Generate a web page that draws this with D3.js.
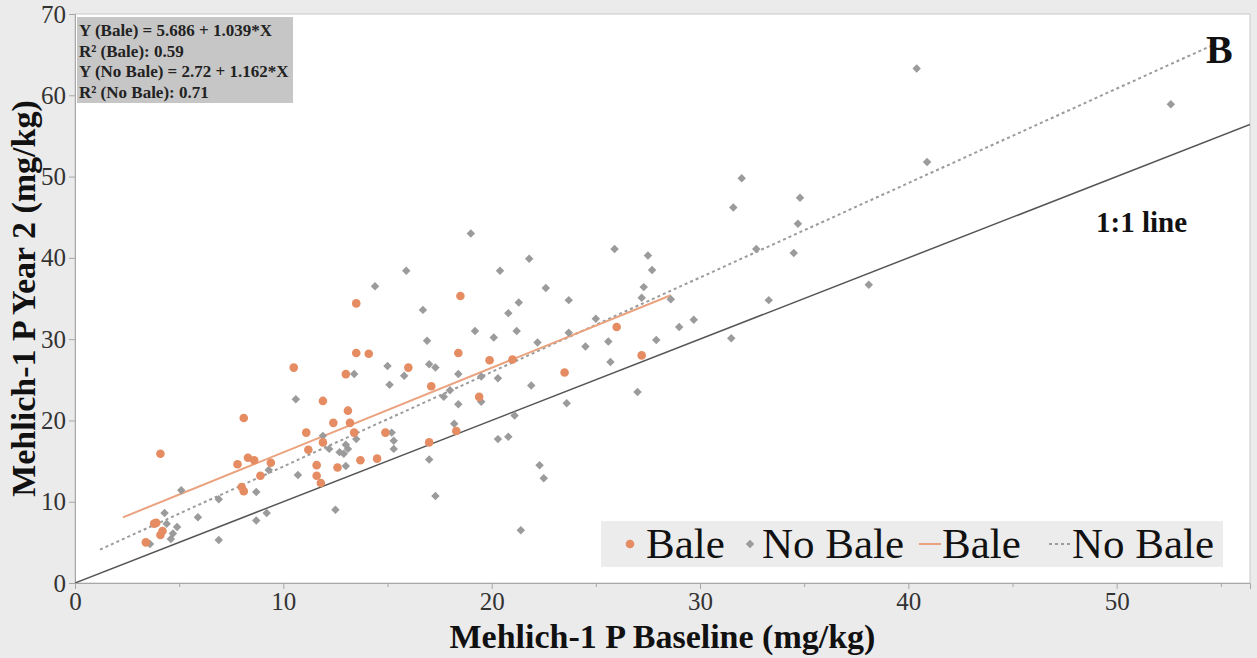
<!DOCTYPE html>
<html>
<head>
<meta charset="utf-8">
<script src="https://cdn.jsdelivr.net/npm/d3@7"></script>
<style>
  body { margin: 0; background: #ebebeb; }
  svg, svg text { font-family: "Liberation Serif", "Times New Roman", serif; }
  svg { display: block; }
</style>
</head>
<body>
<div id="chart"></div>
<script>
// ── data ─────────────────────────────────────────────────────────────────────
const baleX = [10.5, 13.5, 13.0, 11.9, 8.1, 4.1, 13.1, 12.4, 13.2, 11.1, 13.4, 11.2, 11.9,
  7.8, 8.3, 8.6, 9.4, 8.9, 8.0, 8.1, 11.6, 12.6, 11.6, 11.8, 3.8, 3.9, 4.2, 4.1, 3.4,
  13.5, 18.5, 14.1, 16.0, 18.4, 19.9, 21.0, 26.0, 27.2, 23.5, 17.1, 19.4, 14.9, 17.0,
  18.3, 13.7, 14.5];
const baleY = [26.5, 28.3, 25.7, 22.4, 20.3, 15.9, 21.2, 19.7, 19.7, 18.5, 18.5, 16.4, 17.3,
  14.6, 15.4, 15.1, 14.8, 13.2, 11.8, 11.3, 14.5, 14.2, 13.2, 12.3, 7.3, 7.4, 6.4, 5.9, 5.0,
  34.4, 35.3, 28.2, 26.5, 28.3, 27.4, 27.5, 31.5, 28.0, 25.9, 24.2, 22.9, 18.5, 17.3,
  18.7, 15.1, 15.3];

const noBaleX = [10.6, 13.4, 5.1, 6.9, 8.7, 5.9, 4.3, 4.4, 4.9, 4.7, 4.6, 3.6, 6.9, 8.7, 9.2,
  9.3, 10.7, 11.9, 12.2, 12.7, 12.9, 13.0, 13.1, 13.0, 13.5, 12.5, 19.0, 15.9, 14.4, 16.7,
  20.4, 21.8, 25.9, 27.5, 22.6, 21.3, 20.8, 23.7, 27.3, 27.2, 19.2, 20.1, 21.2, 23.7, 25.0,
  16.9, 22.2, 24.5, 25.6, 25.7, 15.0, 15.8, 17.0, 17.3, 18.4, 15.1, 20.3, 19.5, 17.7, 18.0,
  21.9, 18.4, 19.5, 23.6, 27.0, 21.1, 18.2, 15.2, 15.3, 15.3, 17.0, 20.3, 20.8, 17.3, 22.3,
  22.5, 21.4, 32.0, 34.8, 31.6, 40.9, 34.7, 32.7, 34.5, 27.7, 28.6, 29.7, 29.0, 33.3, 38.1,
  31.5, 27.9, 40.4, 52.6];
const noBaleY = [22.6, 25.7, 11.4, 10.3, 11.2, 8.1, 8.6, 7.3, 6.9, 6.1, 5.4, 4.8, 5.3, 7.7, 8.6,
  13.9, 13.3, 18.1, 16.5, 16.1, 15.9, 17.0, 16.5, 14.4, 17.7, 9.0, 43.0, 38.4, 36.5, 33.6,
  38.4, 39.9, 41.1, 40.3, 36.3, 34.5, 33.2, 34.8, 36.4, 35.1, 31.0, 30.2, 31.0, 30.8, 32.5,
  29.8, 29.6, 29.1, 29.7, 27.2, 26.7, 25.5, 26.9, 26.5, 25.7, 24.4, 25.2, 25.4, 22.9, 23.7,
  24.3, 22.0, 22.3, 22.1, 23.5, 20.6, 19.6, 18.5, 17.5, 16.5, 15.2, 17.7, 18.0, 10.7, 14.5,
  12.9, 6.5, 49.8, 47.4, 46.2, 51.8, 44.2, 41.1, 40.6, 38.5, 34.9, 32.4, 31.5, 34.8, 36.7,
  30.1, 29.9, 63.3, 58.9];

// fitted lines: [intercept, slope] and the x span each is drawn over
const baleFit    = [5.686, 1.039];
const baleSpan   = [2.3, 28.6];
const noBaleFit  = [2.72, 1.162];
const noBaleSpan = [1.2, 54.5];

const xTicks = [0, 10, 20, 30, 40, 50];
const xMinor = [5, 15, 25, 35, 45, 55];
const yTicks = [0, 10, 20, 30, 40, 50, 60, 70];

const fitLabels = [
  'Y (Bale) = 5.686 + 1.039*X',
  'R² (Bale): 0.59',
  'Y (No Bale) = 2.72 + 1.162*X',
  'R² (No Bale): 0.71'
];
const legendLabels = ['Bale', 'No Bale', 'Bale', 'No Bale'];

// ── setup ────────────────────────────────────────────────────────────────────
const W = 1257, H = 658;
const plot = { left: 75, right: 1250, top: 14, bottom: 583 };
const serif = '"Liberation Serif", "Times New Roman", serif';

const orange = '#e58c62';
const orangeLine = '#eaa27f';
const grey = '#9b9b9b';

const xScale = d3.scaleLinear().domain([0, 56.4]).range([plot.left, plot.right]);
const yScale = d3.scaleLinear().domain([0, 70]).range([plot.bottom, plot.top]);

const svg = d3.select('#chart').append('svg')
  .attr('width', W).attr('height', H);

svg.append('rect').attr('width', W).attr('height', H).attr('fill', '#ebebeb');

// plot background
svg.append('rect')
  .attr('x', plot.left).attr('y', plot.top)
  .attr('width', plot.right - plot.left).attr('height', plot.bottom - plot.top)
  .attr('fill', '#fff').attr('stroke', '#c8c8c8');

// ── axes ─────────────────────────────────────────────────────────────────────
svg.append('g')
  .attr('transform', `translate(0,${plot.bottom})`)
  .call(d3.axisBottom(xScale).tickValues(xTicks).tickSize(6).tickPadding(3))
  .attr('font-family', serif)
  .call(g => g.select('.domain').attr('stroke', '#a8a8a8'))
  .call(g => g.selectAll('.tick line').attr('stroke', '#a8a8a8'))
  .call(g => g.selectAll('.tick text')
    .style('font-family', serif)
    .attr('font-size', 25).attr('fill', '#333'));

svg.append('g')
  .attr('transform', `translate(0,${plot.bottom})`)
  .call(d3.axisBottom(xScale).tickValues(xMinor.filter(v => v < 56.4)).tickSize(4).tickFormat(''))
  .call(g => g.select('.domain').remove())
  .call(g => g.selectAll('.tick line').attr('stroke', '#a8a8a8'));

svg.append('g')
  .attr('transform', `translate(${plot.left},0)`)
  .call(d3.axisLeft(yScale).tickValues(yTicks).tickSize(6).tickPadding(3))
  .attr('font-family', serif)
  .call(g => g.select('.domain').attr('stroke', '#a8a8a8'))
  .call(g => g.selectAll('.tick line').attr('stroke', '#a8a8a8'))
  .call(g => g.selectAll('.tick text')
    .style('font-family', serif)
    .attr('font-size', 25).attr('fill', '#333'));

// axis titles
svg.append('text')
  .attr('x', (plot.left + plot.right) / 2).attr('y', 648)
  .attr('text-anchor', 'middle')
  .attr('font-size', 34).attr('font-weight', 'bold').attr('fill', '#111')
  .text('Mehlich-1 P Baseline (mg/kg)');

svg.append('text')
  .attr('transform', `translate(35,${(plot.top + plot.bottom) / 2}) rotate(-90)`)
  .attr('text-anchor', 'middle')
  .attr('font-size', 34).attr('font-weight', 'bold').attr('fill', '#111')
  .text('Mehlich-1 P Year 2 (mg/kg)');

// ── lines ────────────────────────────────────────────────────────────────────
svg.append('clipPath').attr('id', 'clip')
  .append('rect')
  .attr('x', plot.left).attr('y', plot.top)
  .attr('width', plot.right - plot.left).attr('height', plot.bottom - plot.top);

const lineGen = d3.line().x(d => xScale(d[0])).y(d => yScale(d[1]));
const fitPts = (fit, span) => span.map(x => [x, fit[0] + fit[1] * x]);

const marks = svg.append('g').attr('clip-path', 'url(#clip)');

// 1:1 line
marks.append('path')
  .attr('d', lineGen(xScale.domain().map(x => [x, x])))
  .attr('stroke', '#555').attr('stroke-width', 1.5).attr('fill', 'none');

marks.append('path')
  .attr('d', lineGen(fitPts(noBaleFit, noBaleSpan)))
  .attr('stroke', grey).attr('stroke-width', 2)
  .attr('stroke-dasharray', '3,3').attr('fill', 'none');

marks.append('path')
  .attr('d', lineGen(fitPts(baleFit, baleSpan)))
  .attr('stroke', orangeLine).attr('stroke-width', 2).attr('fill', 'none');

// ── points ───────────────────────────────────────────────────────────────────
const diamond = d3.symbol().type(d3.symbolSquare).size(36);

marks.selectAll('.nobale')
  .data(d3.zip(noBaleX, noBaleY))
  .join('path')
    .attr('class', 'nobale')
    .attr('d', diamond)
    .attr('transform', d => `translate(${xScale(d[0])},${yScale(d[1])}) rotate(45)`)
    .attr('fill', grey);

marks.selectAll('.bale')
  .data(d3.zip(baleX, baleY))
  .join('circle')
    .attr('class', 'bale')
    .attr('cx', d => xScale(d[0]))
    .attr('cy', d => yScale(d[1]))
    .attr('r', 4.3)
    .attr('fill', orange);

// ── annotations ──────────────────────────────────────────────────────────────
svg.append('rect')
  .attr('x', 77).attr('y', 17).attr('width', 216).attr('height', 86)
  .attr('fill', '#c6c6c6');

svg.append('g').selectAll('text')
  .data(fitLabels)
  .join('text')
    .attr('x', 79)
    .attr('y', (d, i) => 36 + i * 20.5)
    .attr('font-size', 17).attr('font-weight', 'bold').attr('fill', '#222')
    .text(d => d);

svg.append('text')
  .attr('x', 1206).attr('y', 63)
  .attr('font-size', 40).attr('font-weight', 'bold').attr('fill', '#111')
  .text('B');

svg.append('text')
  .attr('x', 1096).attr('y', 232)
  .attr('font-size', 29).attr('font-weight', 'bold').attr('fill', '#111')
  .text('1:1 line');

// ── legend ───────────────────────────────────────────────────────────────────
const lg = svg.append('g');
lg.append('rect')
  .attr('x', 601).attr('y', 521).attr('width', 622).attr('height', 46)
  .attr('fill', '#ececec');

const ly = 544;
lg.append('circle').attr('cx', 630).attr('cy', ly).attr('r', 4.3).attr('fill', orange);
lg.append('path').attr('d', diamond)
  .attr('transform', `translate(750,${ly}) rotate(45)`).attr('fill', grey);
lg.append('line').attr('x1', 919).attr('x2', 941).attr('y1', ly).attr('y2', ly)
  .attr('stroke', orangeLine).attr('stroke-width', 2);
lg.append('line').attr('x1', 1049).attr('x2', 1071).attr('y1', ly).attr('y2', ly)
  .attr('stroke', grey).attr('stroke-width', 2).attr('stroke-dasharray', '3,3');

const legendX = [646, 762, 942, 1072];
lg.selectAll('.lt')
  .data(legendLabels)
  .join('text')
    .attr('class', 'lt')
    .attr('x', (d, i) => legendX[i])
    .attr('y', 558)
    .attr('font-size', 43).attr('fill', '#111')
    .text(d => d);
</script>
</body>
</html>
